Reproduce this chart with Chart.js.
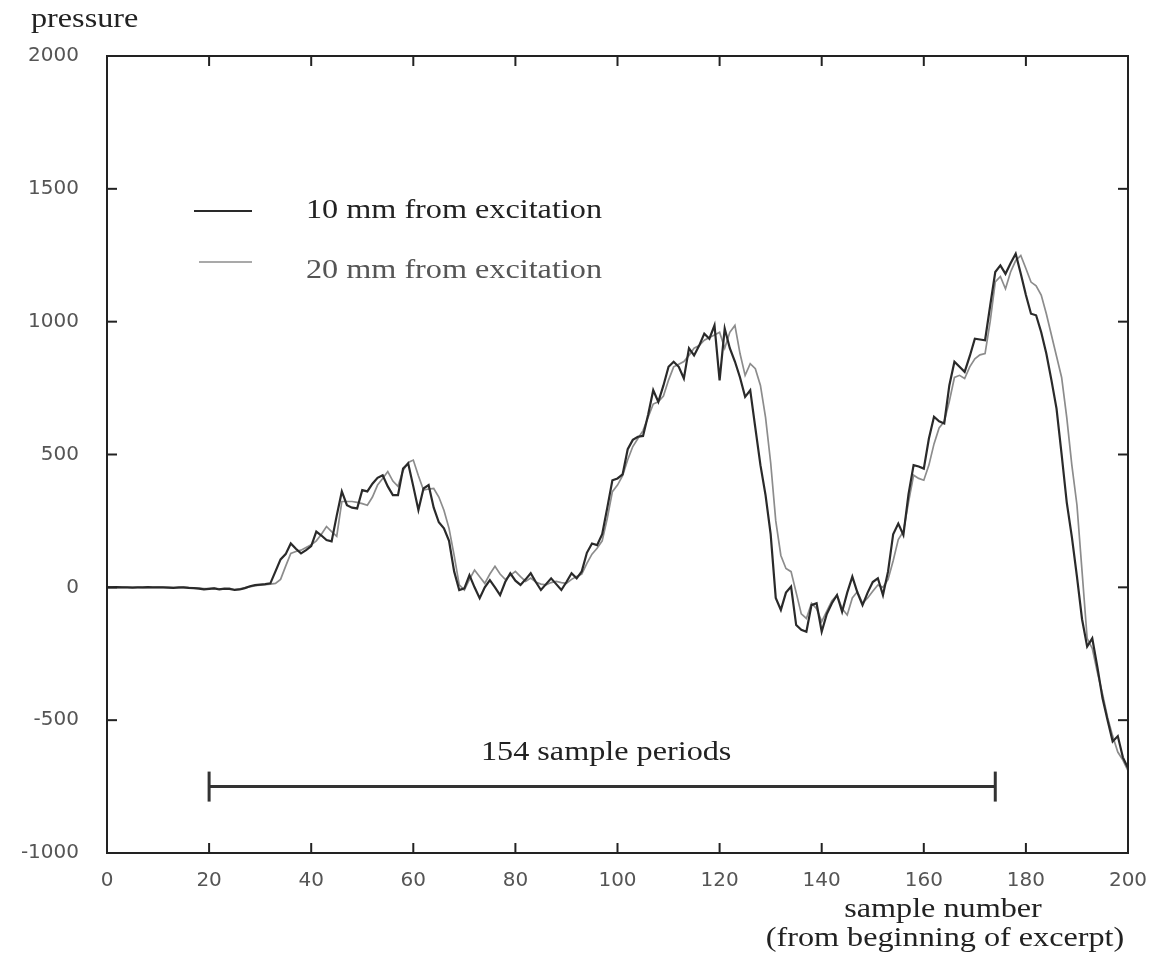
<!DOCTYPE html>
<html>
<head>
<meta charset="utf-8">
<script src="https://cdn.jsdelivr.net/npm/chart.js@4.4.1/dist/chart.umd.min.js"></script>
<style>
  body { margin: 0; background: #fff; }
  #wrap { position: relative; width: 1149px; height: 967px; }
</style>
</head>
<body>
<div id="wrap"><canvas id="chart"></canvas></div>
<script>
// pressure, one value per sample (0..200)
const near10mm = [
  0, 0, 1, 0, 0, -1, 0, 0, 1, 0,
  0, 0, -1, -2, 0, 0, -2, -3, -5, -8,
  -6, -4, -8, -5, -6, -10, -8, -3, 4, 8,
  10, 12, 15, 60, 105, 125, 165, 145, 128, 140,
  155, 210, 195, 178, 173, 270, 361, 309, 300, 297,
  366, 361, 390, 412, 422, 380, 347, 347, 447, 466,
  380, 291, 372, 385, 300, 245, 222, 175, 60, -10,
  -4, 46, 0, -41, 0, 27, 0, -29, 20, 53,
  25, 9, 30, 53, 20, -10, 12, 34, 12, -10,
  20, 53, 34, 60, 130, 165, 159, 200, 300, 403,
  410, 425, 520, 555, 567, 570, 650, 742, 698, 760,
  830, 849, 830, 786, 900, 873, 910, 955, 936, 986,
  779, 974, 900, 850, 790, 717, 742, 600, 460, 347,
  200, -40, -85, -20, 3, -142, -160, -167, -67, -60,
  -167, -100, -60, -29, -92, -20, 40, -20, -67, -20,
  20, 34, -29, 60, 200, 240, 197, 350, 460, 455,
  447, 560, 642, 625, 617, 760, 849, 830, 811, 870,
  936, 933, 930, 1060, 1187, 1212, 1180, 1220, 1256, 1180,
  1100, 1030, 1024, 960, 880, 780, 673, 500, 320, 190,
  40, -120, -223, -192, -300, -417, -500, -580, -560, -640,
  -680
];
const near20mm = [
  0, 0, 0, 1, 0, 0, 0, -1, 0, 0,
  1, 0, 0, -1, -2, 0, -1, -2, -3, -5,
  -5, -3, -6, -6, -4, -8, -6, -2, 2, 6,
  8, 10, 12, 15, 30, 80, 128, 135, 140, 150,
  160, 175, 200, 229, 210, 192, 323, 323, 323, 320,
  315, 309, 340, 385, 410, 436, 400, 380, 440, 470,
  479, 420, 366, 370, 372, 340, 290, 222, 120, 9,
  -10, 30, 65, 40, 15, 50, 79, 50, 30, 45,
  60, 40, 22, 35, 20, 12, 9, 18, 22, 18,
  15, 30, 41, 50, 90, 125, 147, 175, 260, 360,
  385, 420, 480, 530, 560, 590, 640, 690, 698, 720,
  780, 830, 840, 850, 873, 900, 910, 930, 940, 950,
  960, 900, 960, 986, 880, 798, 842, 823, 760, 640,
  470, 250, 120, 71, 59, -20, -100, -117, -60, -80,
  -129, -90, -50, -29, -80, -104, -40, -16, -60, -40,
  -15, 9, 0, 30, 100, 180, 210, 320, 422, 410,
  403, 460, 540, 600, 624, 700, 790, 798, 786, 830,
  860, 875, 880, 1000, 1150, 1170, 1124, 1187, 1230, 1249,
  1200, 1149, 1135, 1100, 1030, 950, 870, 790, 640, 460,
  310, 60, -192, -230, -320, -400, -490, -560, -620, -650,
  -690
];
const seriesNames = ['10 mm from excitation', '20 mm from excitation'];

// the "154 sample periods" span
const spanStart = 20;
const spanEnd = 174;
const spanLevel = -750;

const serif = '"Liberation Serif", "Times New Roman", serif';
const STRETCH = 1.15;

function wideText(ctx, str, x, y, align) {
  ctx.save();
  ctx.translate(x, y);
  ctx.scale(STRETCH, 1);
  ctx.textAlign = align;
  ctx.textBaseline = 'alphabetic';
  ctx.fillText(str, 0, 0);
  ctx.restore();
}

function seg(ctx, x1, y1, x2, y2) {
  ctx.beginPath();
  ctx.moveTo(x1, y1);
  ctx.lineTo(x2, y2);
  ctx.stroke();
}

// frame, inward ticks, titles and legend
const paperPlugin = {
  id: 'paper',
  afterDraw(chart) {
    const { ctx, chartArea: a, scales: { x, y } } = chart;
    ctx.save();
    ctx.strokeStyle = '#222';
    ctx.lineWidth = 2;
    ctx.strokeRect(a.left, a.top, a.right - a.left, a.bottom - a.top);
    const len = 10;
    x.ticks.forEach(t => {
      const px = x.getPixelForValue(t.value);
      seg(ctx, px, a.bottom, px, a.bottom - len);
      seg(ctx, px, a.top, px, a.top + len);
    });
    y.ticks.forEach(t => {
      const py = y.getPixelForValue(t.value);
      seg(ctx, a.left, py, a.left + len, py);
      seg(ctx, a.right, py, a.right - len, py);
    });

    ctx.fillStyle = '#222';
    ctx.font = '28px ' + serif;
    wideText(ctx, 'pressure', 31, 27, 'left');
    wideText(ctx, 'sample number', 943, 917, 'center');
    wideText(ctx, '(from beginning of excerpt)', 945, 946, 'center');

    const mid = x.getPixelForValue((spanStart + spanEnd) / 2);
    wideText(ctx, (spanEnd - spanStart) + ' sample periods', mid + 4, y.getPixelForValue(spanLevel) - 27, 'center');

    // legend
    const rows = [[211, 218], [262, 278]];
    chart.data.datasets.slice(0, 2).forEach((ds, i) => {
      ctx.strokeStyle = ds.borderColor;
      ctx.lineWidth = ds.borderWidth;
      seg(ctx, 194 + i * 5, rows[i][0], 252, rows[i][0]);
      ctx.fillStyle = i === 0 ? '#222' : '#555';
      wideText(ctx, ds.label, 306, rows[i][1], 'left');
    });
    ctx.restore();
  }
};

const tickFont = { family: '"DejaVu Sans", sans-serif', size: 20 };

new Chart(document.getElementById('chart'), {
  type: 'line',
  data: {
    datasets: [
      {
        label: seriesNames[0],
        data: near10mm.map((v, i) => ({ x: i, y: v })),
        borderColor: '#2a2a2a',
        borderWidth: 2.2,
        pointRadius: 0,
        tension: 0
      },
      {
        label: seriesNames[1],
        data: near20mm.map((v, i) => ({ x: i, y: v })),
        borderColor: '#8c8c8c',
        borderWidth: 1.7,
        pointRadius: 0,
        tension: 0
      },
      {
        label: 'span',
        data: [{ x: spanStart, y: spanLevel }, { x: spanEnd, y: spanLevel }],
        borderColor: '#333',
        borderWidth: 3,
        pointStyle: 'line',
        rotation: 90,
        pointRadius: 15,
        pointBorderWidth: 3,
        pointBorderColor: '#333'
      }
    ]
  },
  options: {
    responsive: true,
    maintainAspectRatio: false,
    animation: false,
    events: [],
    layout: { padding: { top: 56, right: 0, left: 0, bottom: 0 } },
    plugins: {
      legend: { display: false },
      tooltip: { enabled: false }
    },
    scales: {
      x: {
        type: 'linear',
        min: 0,
        max: 200,
        grid: { display: false },
        border: { display: false },
        ticks: { stepSize: 20, font: tickFont, color: '#555', padding: 8, maxRotation: 0 },
        afterFit(scale) { scale.height = 114; scale.paddingRight = 21; }
      },
      y: {
        min: -1000,
        max: 2000,
        grid: { display: false },
        border: { display: false },
        ticks: {
          stepSize: 500, font: tickFont, color: '#555', padding: 20,
          callback: v => String(v)
        },
        afterFit(scale) { scale.width = 107; }
      }
    }
  },
  plugins: [paperPlugin]
});
</script>
</body>
</html>
